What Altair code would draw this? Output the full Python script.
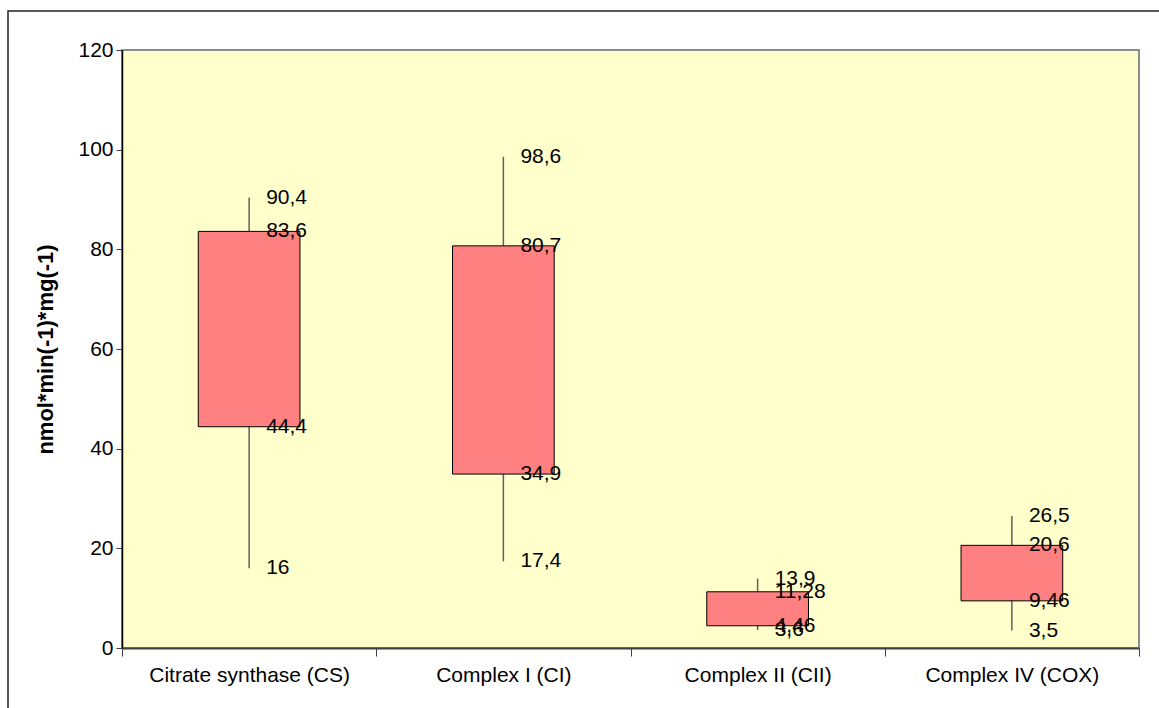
import altair as alt
import pandas as pd

categories = ["Citrate synthase (CS)", "Complex I (CI)", "Complex II (CII)", "Complex IV (COX)"]
minimum = [16, 17.4, 3.6, 3.5]
q1 = [44.4, 34.9, 4.46, 9.46]
q3 = [83.6, 80.7, 11.28, 20.6]
maximum = [90.4, 98.6, 13.9, 26.5]
y_ticks = [0, 20, 40, 60, 80, 100, 120]

FONT = "Liberation Sans"
YTITLE = "nmol*min(-1)*mg(-1)"

box_df = pd.DataFrame({"category": categories, "low": minimum, "q1": q1, "q3": q3, "high": maximum})

rows = []
for c, a, b, d, e in zip(categories, minimum, q1, q3, maximum):
    for v in (a, b, d, e):
        rows.append({"category": c, "value": v, "label": f"{v:g}".replace(".", ",")})
lab_df = pd.DataFrame(rows)

x_enc = alt.X(
    "category:N",
    sort=categories,
    scale=alt.Scale(paddingInner=0, paddingOuter=0),
    axis=alt.Axis(
        title=None, labelAngle=0, tickBand="extent", tickSize=8, tickColor="#404040",
        domainColor="#404040", domainWidth=2, labelPadding=8, labelFontSize=21,
        labelColor="black", labelFont=FONT, labelLimit=0,
    ),
)
y_scale = alt.Scale(domain=[0, 120], nice=False, zero=True)
y_axis = alt.Axis(
    values=y_ticks, grid=False, tickSize=6, tickColor="#404040", domainColor="black",
    domainWidth=1.5, labelPadding=3, labelFontSize=21, labelColor="black", labelFont=FONT,
    title=YTITLE, titleFontSize=22, titleFont=FONT, titleFontWeight="bold",
    titleX=-65, titleY=299, titleAngle=270, titleBaseline="bottom", titleAlign="center",
    titleColor="black",
)

base = alt.Chart(box_df)

frame = alt.Chart(pd.DataFrame({"k": [0]})).mark_rect(
    fill="transparent", stroke="#222222", strokeWidth=1.5
).encode(
    x=alt.value(-114), x2=alt.value(1200), y=alt.value(-39), y2=alt.value(800)
)

whisk = base.mark_rule(color="#606060", strokeWidth=1.5).encode(
    x=x_enc,
    y=alt.Y("low:Q", scale=y_scale, axis=y_axis),
    y2="high:Q",
)

boxes = base.mark_bar(
    width=alt.RelativeBandSize(0.4), fill="#FF8080", stroke="black", strokeWidth=1
).encode(
    x=x_enc,
    y=alt.Y("q1:Q", scale=y_scale, axis=y_axis),
    y2="q3:Q",
)

labels = alt.Chart(lab_df).mark_text(
    align="left", baseline="middle", dx=17, fontSize=21, font=FONT, color="black"
).encode(
    x=x_enc,
    y=alt.Y("value:Q", scale=y_scale, axis=y_axis),
    text="label:N",
)

chart = alt.layer(frame, whisk, boxes, labels).properties(
    width=1017,
    height=598,
    autosize=alt.AutoSizeParams(type="none"),
    padding={"left": 122, "top": 50, "right": 20, "bottom": 60},
    background="white",
).configure_view(
    fill="#FFFFCC", stroke="#8C8C8C", strokeWidth=2
)

chart.save("out.html", embed_options={"renderer": "svg", "actions": False})
